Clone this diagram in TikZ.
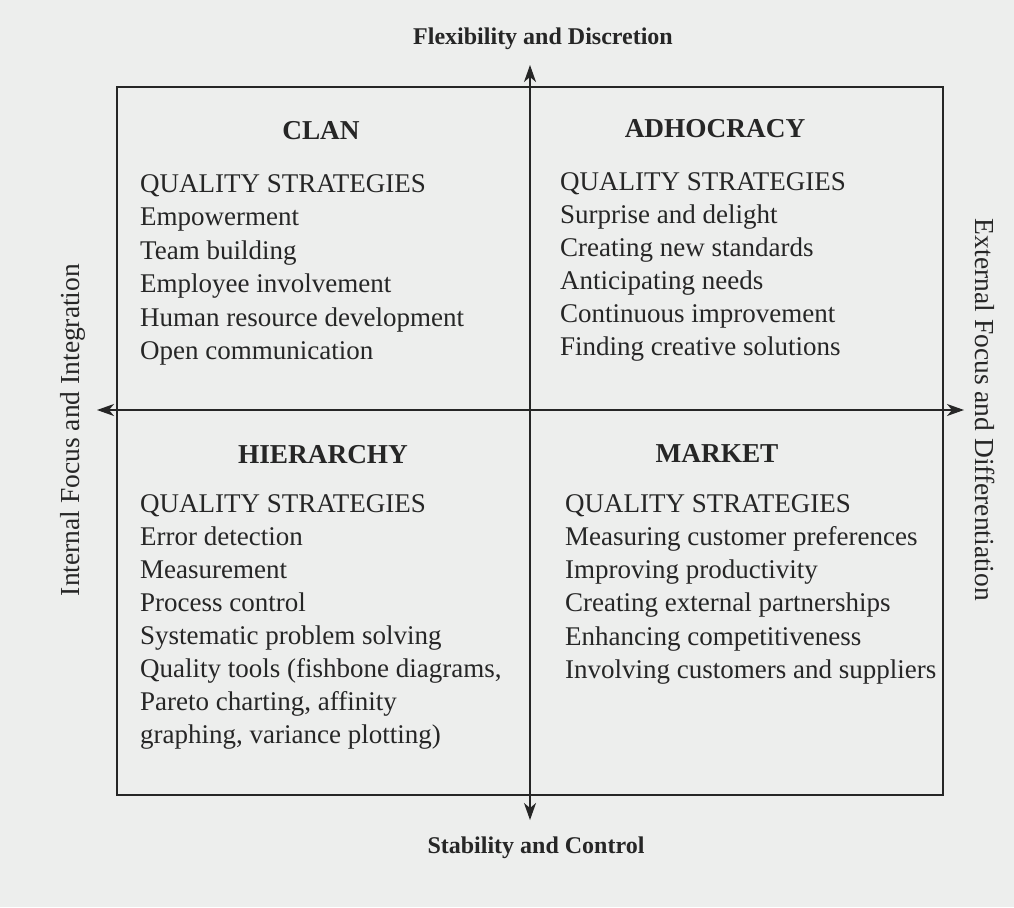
\documentclass[tikz,border=0pt]{standalone}
\usepackage{fontspec}
\setmainfont{Liberation Serif}
\usetikzlibrary{arrows.meta}
\definecolor{paper}{RGB}{237,238,237}
\definecolor{ink}{RGB}{38,38,38}

\begin{document}
\begin{tikzpicture}[x=1pt, y=-1pt, color=ink,
  axis label/.style={font=\fontsize{24}{28}\selectfont\bfseries, inner sep=0pt, anchor=base},
  side label/.style={font=\fontsize{27.5}{32}\selectfont, inner sep=0pt},
  type head/.style={font=\fontsize{27.3}{32}\selectfont\bfseries, inner sep=0pt, anchor=base},
  item/.style={font=\fontsize{27}{32}\selectfont, inner sep=0pt, anchor=base west},
  axis/.style={line width=1.4pt, {Stealth[length=17pt,width=12pt,inset=5pt]}-{Stealth[length=17pt,width=12pt,inset=5pt]}}]

\fill[paper] (0,0) rectangle (1014,907);
\useasboundingbox (0,0) rectangle (1014,907);
\draw[line width=2pt] (117,87) rectangle (943,795);

% axes
\coordinate (top) at (530,65);
\coordinate (bottom) at (530,820);
\coordinate (left) at (97,410);
\coordinate (right) at (964,410);
\draw[axis] (top) -- (bottom);
\draw[axis] (left) -- (right);

\node[axis label] (flex) at (543,45) {Flexibility and Discretion};
\node[axis label] (stab) at (536,853) {Stability and Control};
\node[side label, rotate=90] (internal) at (73,430) {Internal Focus and Integration};
\node[side label, rotate=-90] (external) at (985,410) {External Focus and Differentiation};

% clan
\node[type head] (clan) at (321,139) {CLAN};
\node[item] (clan-qs) at (140,192) {QUALITY STRATEGIES};
\foreach \txt [count=\i] in {Empowerment, Team building, Employee involvement,
    Human resource development, Open communication}
  \node[item] (clan-\i) at (140,{192+33.5*\i}) {\txt};

% adhocracy
\node[type head] (adhocracy) at (715,137) {ADHOCRACY};
\node[item] (adhocracy-qs) at (560,190) {QUALITY STRATEGIES};
\foreach \txt [count=\i] in {Surprise and delight, Creating new standards,
    Anticipating needs, Continuous improvement, Finding creative solutions}
  \node[item] (adhocracy-\i) at (560,{190+33*\i}) {\txt};

% hierarchy
\node[type head] (hierarchy) at (323,463) {HIERARCHY};
\node[item] (hierarchy-qs) at (140,512) {QUALITY STRATEGIES};
\foreach \txt [count=\i] in {Error detection, Measurement, Process control,
    Systematic problem solving, {Quality tools (fishbone diagrams,},
    {Pareto charting, affinity}, {graphing, variance plotting)}}
  \node[item] (hierarchy-\i) at (140,{512+33*\i}) {\txt};

% market
\node[type head] (market) at (717,462) {MARKET};
\node[item] (market-qs) at (565,512) {QUALITY STRATEGIES};
\foreach \txt [count=\i] in {Measuring customer preferences, Improving productivity,
    Creating external partnerships, Enhancing competitiveness,
    Involving customers and suppliers}
  \node[item] (market-\i) at (565,{512+33.3*\i}) {\txt};
\end{tikzpicture}
\end{document}
